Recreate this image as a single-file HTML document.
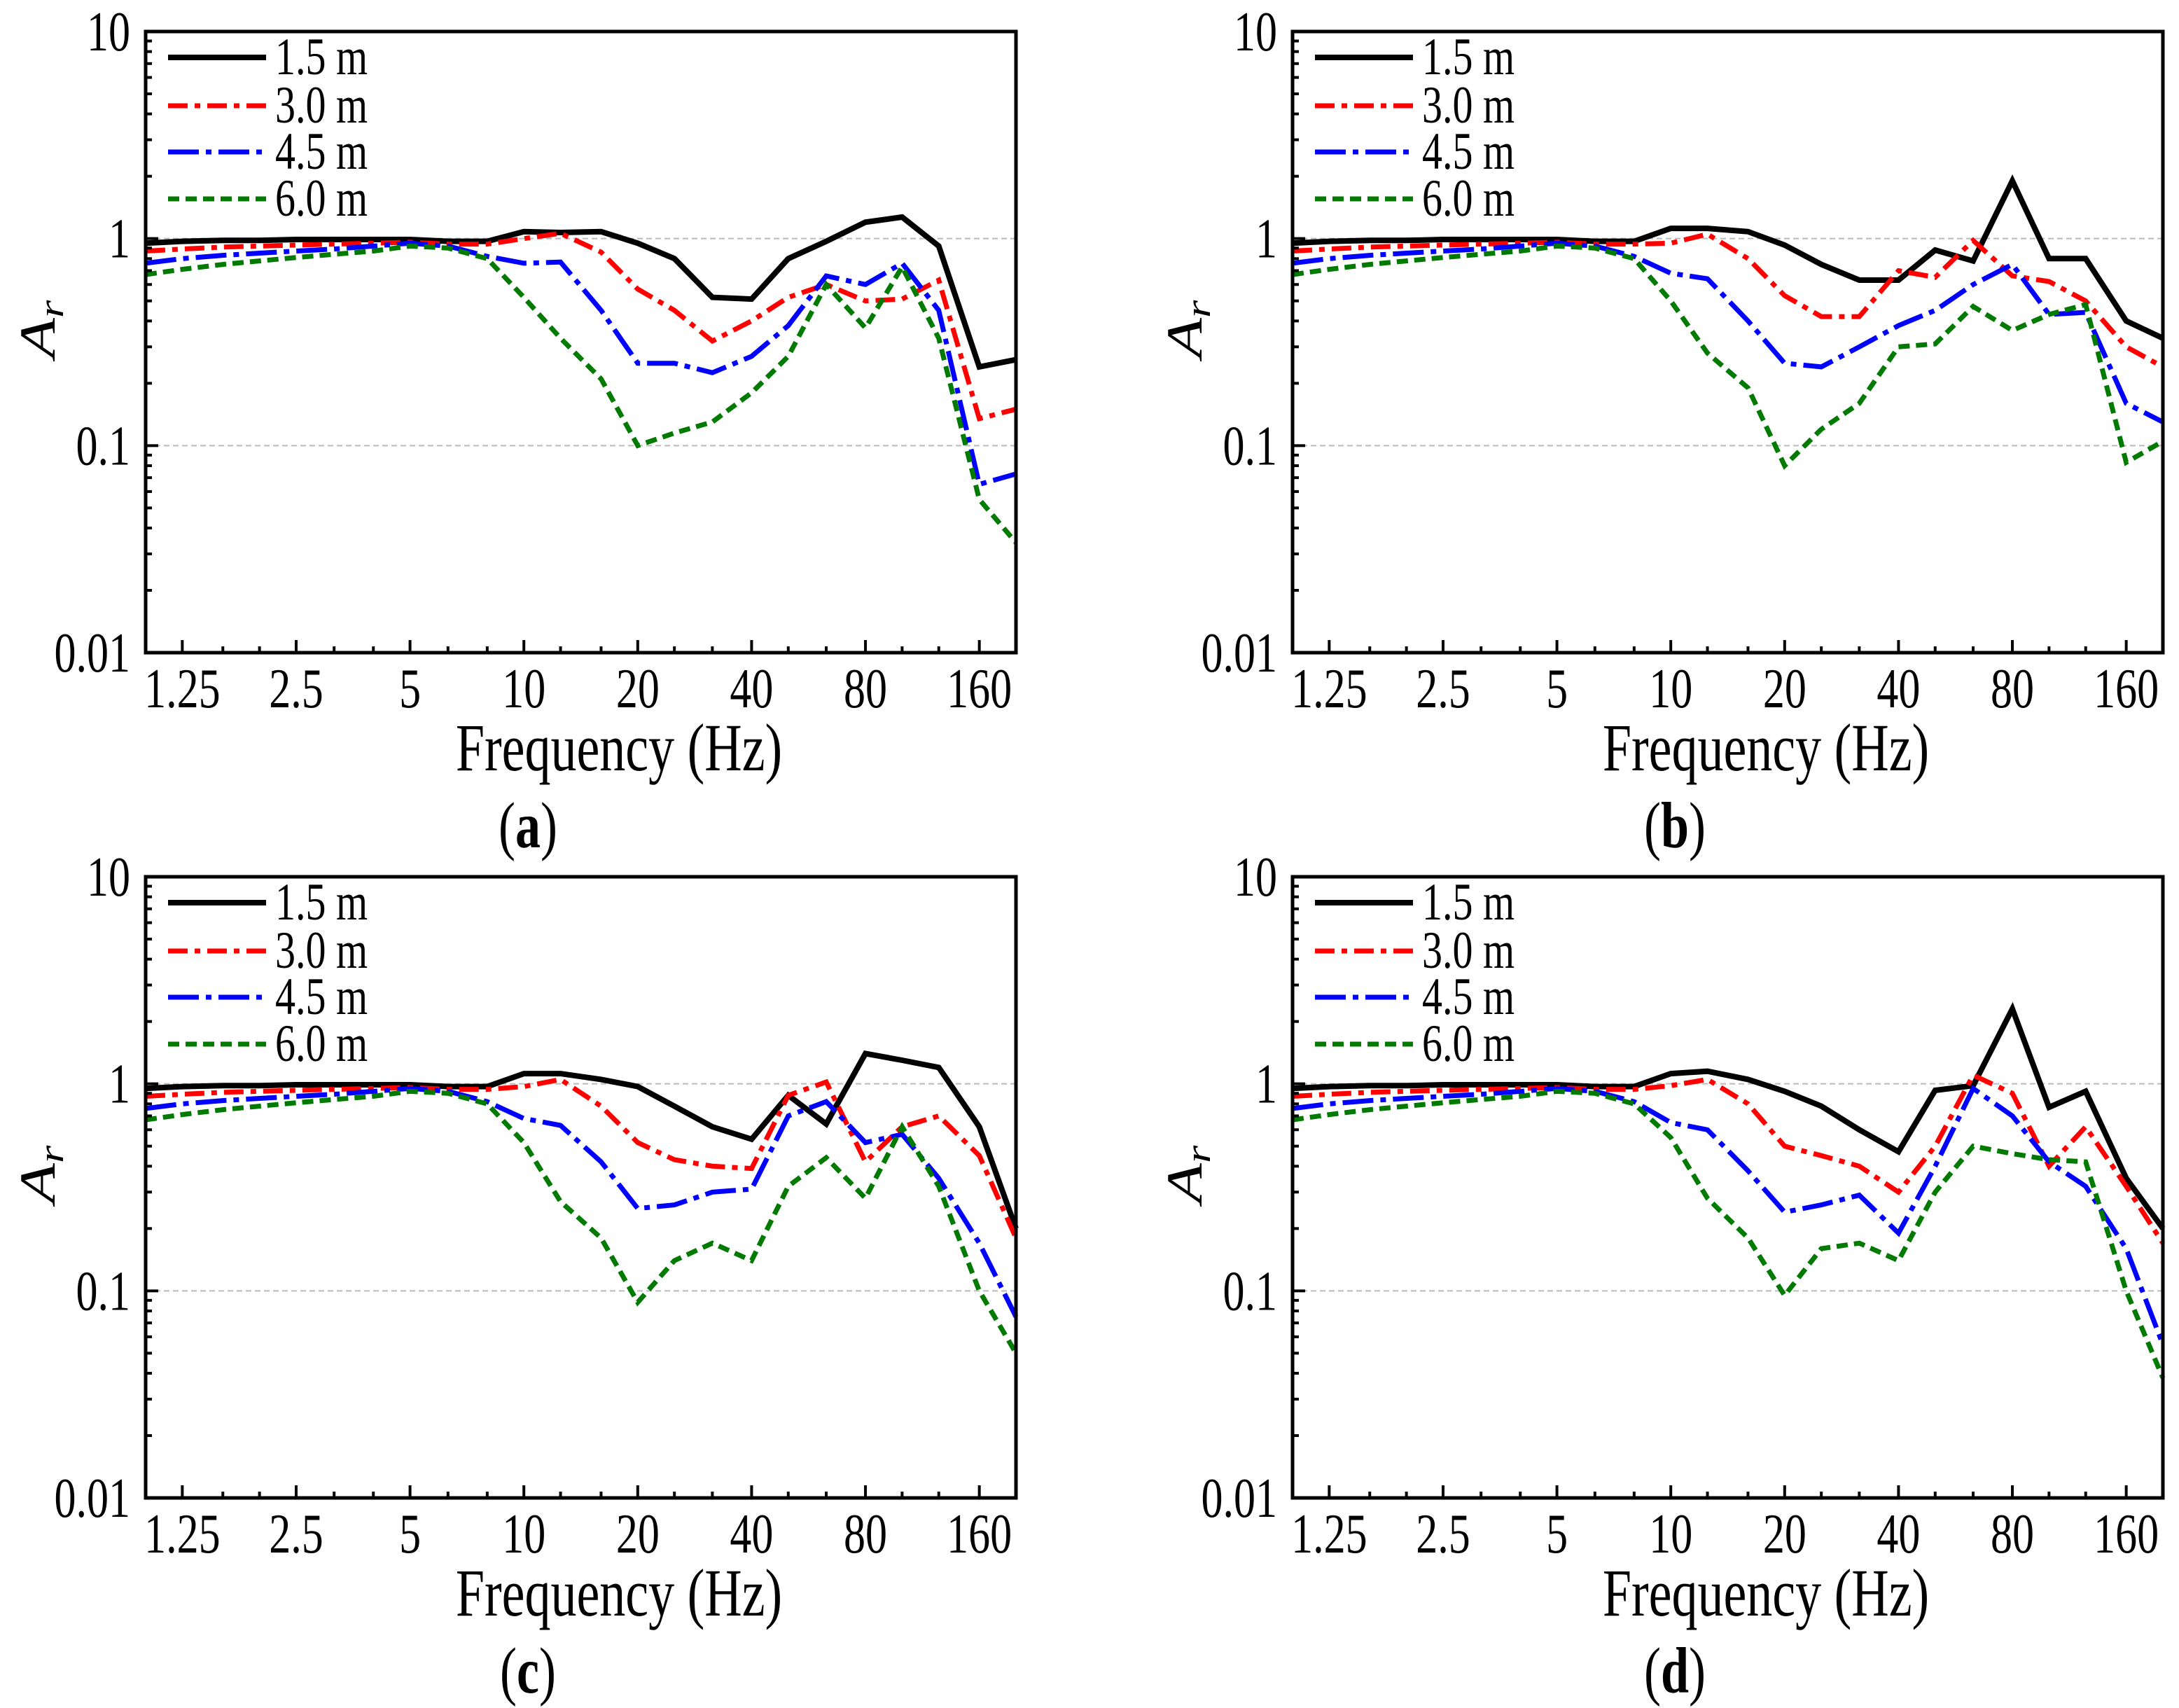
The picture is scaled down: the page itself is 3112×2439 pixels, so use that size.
<!DOCTYPE html>
<html><head><meta charset="utf-8"><style>
html,body{margin:0;padding:0;background:#fff;}
svg{display:block;font-family:"Liberation Serif",serif;}
</style></head><body>
<svg id="fig" width="3112" height="2439" viewBox="0 0 3112 2439" xmlns="http://www.w3.org/2000/svg"></svg>
<script>
const freqs=[1,1.25,1.6,2,2.5,3.15,4,5,6.3,8,10,12.5,16,20,25,31.5,40,50,63,80,100,125,160,200];
const xTickLabels=["1.25","2.5","5","10","20","40","80","160"];
const xTickValues=[1.25,2.5,5,10,20,40,80,160];
const yTickValues=[10,1,0.1,0.01];
const yTickLabels=["10","1","0.1","0.01"];
const seriesNames=["1.5 m","3.0 m","4.5 m","6.0 m"];
const panelLabels=["a","b","c","d"];
const low15=[0.95,0.97,0.98,0.98,0.99,0.99,0.99,0.99,0.97,0.97];
const low30=[0.87,0.89,0.91,0.92,0.93,0.94,0.95,0.96,0.94,0.94];
const low45=[0.76,0.80,0.83,0.85,0.87,0.89,0.92,0.95,0.92,0.82];
const low60=[0.67,0.71,0.75,0.78,0.81,0.84,0.87,0.92,0.90,0.80];
const a15=low15.concat([1.08,1.07,1.08,0.95,0.8,0.52,0.51,0.8,0.97,1.2,1.27,0.92,0.24,0.26]);
const a30=low30.concat([1.0,1.06,0.86,0.57,0.45,0.32,0.40,0.52,0.6,0.50,0.51,0.63,0.135,0.15]);
const a45=low45.concat([0.76,0.77,0.45,0.25,0.25,0.225,0.27,0.38,0.66,0.6,0.76,0.45,0.065,0.073]);
const a60=low60.concat([0.52,0.33,0.21,0.10,0.115,0.13,0.18,0.27,0.6,0.37,0.73,0.33,0.055,0.034]);
const b15=low15.concat([1.12,1.12,1.08,0.93,0.75,0.63,0.63,0.88,0.78,1.9,0.8,0.8,0.4,0.33]);
const b30=low30.concat([0.95,1.05,0.8,0.53,0.42,0.42,0.7,0.65,0.98,0.66,0.62,0.5,0.3,0.24]);
const b45=low45.concat([0.68,0.64,0.4,0.25,0.24,0.3,0.38,0.45,0.6,0.75,0.43,0.44,0.16,0.13]);
const b60=low60.concat([0.5,0.28,0.19,0.08,0.12,0.16,0.3,0.31,0.47,0.36,0.43,0.48,0.083,0.105]);
const c15=low15.concat([1.12,1.12,1.05,0.97,0.78,0.62,0.54,0.88,0.64,1.4,1.3,1.2,0.62,0.2]);
const c30=low30.concat([0.97,1.05,0.78,0.52,0.43,0.4,0.39,0.88,1.02,0.42,0.62,0.7,0.45,0.18]);
const c45=low45.concat([0.68,0.63,0.42,0.25,0.26,0.3,0.31,0.7,0.82,0.52,0.57,0.35,0.17,0.075]);
const c60=low60.concat([0.52,0.27,0.18,0.088,0.14,0.17,0.14,0.32,0.44,0.28,0.62,0.32,0.1,0.05]);
const d15=low15.concat([1.12,1.15,1.05,0.92,0.78,0.6,0.47,0.93,0.98,2.3,0.77,0.92,0.35,0.2]);
const d30=low30.concat([0.98,1.05,0.8,0.5,0.45,0.4,0.3,0.5,1.1,0.9,0.4,0.62,0.32,0.17]);
const d45=low45.concat([0.65,0.6,0.38,0.24,0.26,0.29,0.19,0.4,0.95,0.7,0.42,0.32,0.16,0.055]);
const d60=low60.concat([0.55,0.28,0.18,0.095,0.16,0.17,0.14,0.3,0.5,0.46,0.43,0.42,0.1,0.038]);
const panelData=[[a15,a30,a45,a60],[b15,b30,b45,b60],[c15,c30,c45,c60],[d15,d30,d45,d60]];

const NS="http://www.w3.org/2000/svg";
const svg=document.getElementById('fig');
function mk(tag,attrs,parent){const e=document.createElementNS(NS,tag);for(const k in attrs)e.setAttribute(k,attrs[k]);(parent||svg).appendChild(e);return e;}
function txt(x,y,size,anchor,sy,parent){return mk('text',{x:0,y:0,'font-size':size,'text-anchor':anchor,transform:`translate(${x},${y}) scale(1,${sy})`},parent);}
const colors=["#000","#ff0000","#0000ff","#007a00"];
const widths=[8,7,7,7];
const dashes=["none","28 10 8 10","44 10 8 10","16 9"];
const offsets=[[0,0],[1638,0],[0,1207],[1638,1207]];
const L=208,R=1451,T=45,B=932;
offsets.forEach((off,p)=>{
  const ox=off[0],oy=off[1];
  const g=mk('g',{});
  
  
  const xs=f=>ox+L+(R-L)*Math.log2(f)/Math.log2(200);
  const ys=v=>oy+T+(B-T)*(1-Math.log10(v))/3;
  [1,0.1].forEach(v=>{const gl=mk('line',{x1:ox+L,x2:ox+R,y1:ys(v),y2:ys(v),stroke:'#bbb','stroke-width':2,'stroke-dasharray':'8 5'},g);
    });
  panelData[p].forEach((vals,s)=>{
    const d=vals.map((v,i)=>(i?'L':'M')+xs(freqs[i]).toFixed(1)+' '+ys(v).toFixed(1)).join(' ');
    const pl=mk('path',{d:d,fill:'none',stroke:colors[s],'stroke-width':widths[s],'stroke-dasharray':dashes[s],'stroke-linejoin':'miter'},g);
    
    
  });
  const fr=mk('rect',{x:ox+L,y:oy+T,width:R-L,height:B-T,fill:'none',stroke:'#000','stroke-width':5},g);
  
  for(let i=1;i<freqs.length-1;i++){
    const f=freqs[i];const major=xTickValues.indexOf(f)>=0;
    const t=mk('line',{x1:xs(f),x2:xs(f),y1:oy+B,y2:oy+B-(major?18:9),stroke:'#000','stroke-width':4},g);
    
  }
  xTickValues.forEach((f,i)=>{const t=txt(xs(f),oy+1010,62,'middle',1.3,g);t.textContent=xTickLabels[i];
    });
  for(let dcd=-2;dcd<1;dcd++){for(let m=1;m<=9;m++){const v=m*Math.pow(10,dcd);if(m===1&&dcd===-2)continue;
    const t=mk('line',{x1:ox+L,x2:ox+L+(m===1?18:9),y1:ys(v),y2:ys(v),stroke:'#000','stroke-width':4},g);
    }}
  yTickValues.forEach((v,i)=>{const t=txt(ox+186,ys(v)+27,62,'end',1.3,g);t.textContent=yTickLabels[i];
    });
  const yt=mk('text',{x:0,y:0,'font-size':72,'font-style':'italic','text-anchor':'middle',transform:`translate(${ox+78},${oy+470}) rotate(-90) scale(1.3,1)`},g);
  yt.innerHTML='A<tspan font-size="50" dy="12">r</tspan>';
  
  const xt=txt(ox+884,oy+1100,74,'middle',1.3,g);xt.textContent='Frequency (Hz)';
  
  const pl=txt(ox+754,oy+1210,72,'middle',1.3,g);pl.innerHTML='(<tspan font-weight="bold">'+panelLabels[p]+'</tspan>)';
  
  const ly=[82,151,217,284];
  seriesNames.forEach((n,s)=>{
    const ll=mk('line',{x1:ox+240,x2:ox+380,y1:oy+ly[s],y2:oy+ly[s],stroke:colors[s],'stroke-width':widths[s],'stroke-dasharray':dashes[s]},g);
    
    const lt=txt(ox+393,oy+ly[s]+24,58,'start',1.3,g);lt.textContent=n;
    
  });
});
</script>
</body></html>
